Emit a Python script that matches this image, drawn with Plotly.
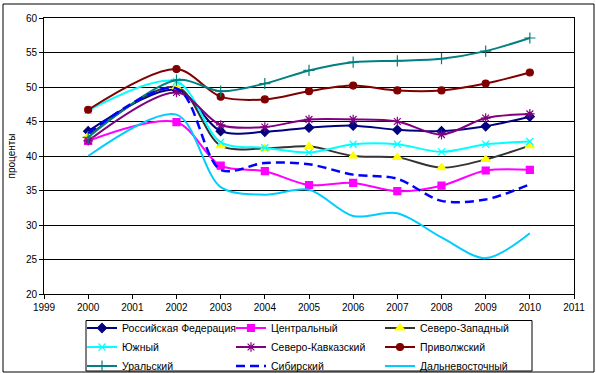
import plotly.graph_objects as go

years = [2000, 2002, 2003, 2004, 2005, 2006, 2007, 2008, 2009, 2010]

rf = [43.6, 49.6, 43.6, 43.5, 44.1, 44.4, 43.8, 43.6, 44.3, 45.7]
central = [42.2, 44.9, 38.6, 37.8, 35.8, 36.1, 34.9, 35.7, 37.9, 38.0]
nw = [42.9, 50.0, 41.5, 41.1, 41.4, 40.0, 39.8, 38.3, 39.5, 41.5]
south = [46.6, 50.8, 42.0, 41.2, 40.5, 41.7, 41.7, 40.6, 41.7, 42.1]
ncauc = [42.2, 49.2, 44.5, 44.2, 45.3, 45.3, 45.0, 43.1, 45.5, 46.1]
volga = [46.7, 52.6, 48.6, 48.2, 49.4, 50.2, 49.5, 49.5, 50.5, 52.1]
ural = [42.7, 51.0, 49.4, 50.5, 52.4, 53.6, 53.8, 54.1, 55.2, 57.1]
siber = [43.3, 49.8, 38.0, 39.0, 38.8, 37.3, 36.7, 33.5, 33.7, 35.9]
fareast = [40.0, 46.0, 35.5, 34.4, 35.1, 31.3, 31.7, 28.2, 25.2, 28.8]

x_ticks = list(range(1999, 2012))
y_ticks = list(range(20, 61, 5))

series = [
    ("Российская Федерация", rf, "#000080", "#000080", "diamond", 7, "solid"),
    ("Центральный", central, "#FF00FF", "#FF00FF", "square", 7, "solid"),
    ("Северо-Западный", nw, "#333333", "#FFFF00", "triangle-up", 8, "solid"),
    ("Южный", south, "#00FFFF", "#00FFFF", "x-thin-open", 7, "solid"),
    ("Северо-Кавказский", ncauc, "#800080", "#800080", "asterisk-open", 8, "solid"),
    ("Приволжский", volga, "#800000", "#800000", "circle", 7, "solid"),
    ("Уральский", ural, "#008080", "#008080", "cross-thin-open", 8, "solid"),
    ("Сибирский", siber, "#0000FF", "#0000FF", None, 0, "dash"),
    ("Дальневосточный", fareast, "#00CCFF", "#00CCFF", None, 0, "solid"),
]

fig = go.Figure()
for name, vals, lc, mc, sym, size, dash in series:
    if sym:
        fig.add_trace(go.Scatter(
            x=years, y=vals, name=name, mode="lines+markers",
            line=dict(color=lc, width=2, shape="spline", smoothing=0.9, dash=dash),
            marker=dict(symbol=sym, size=size, color=mc,
                        line=dict(color=mc, width=1.2)),
        ))
    else:
        fig.add_trace(go.Scatter(
            x=years, y=vals, name=name, mode="lines",
            line=dict(color=lc, width=2.5 if dash == "dash" else 2,
                      shape="spline", smoothing=0.9,
                      dash="9px,5px" if dash == "dash" else dash),
        ))

W, H = 596, 373
L, R, T, B = 44, 22, 18, 79
pw, ph = W - L - R, H - T - B

def px(xp):
    return (xp - L) / pw

def py(yp):
    return (H - B - yp) / ph

# outer chart frame
fig.add_shape(type="rect", xref="paper", yref="paper",
              x0=px(3), x1=px(594), y0=py(372), y1=py(4),
              line=dict(color="black", width=1), layer="below")
# legend frame
fig.add_shape(type="rect", xref="paper", yref="paper",
              x0=px(86), x1=px(532), y0=py(371), y1=py(320.5),
              line=dict(color="black", width=1), fillcolor="white", layer="above")

font = "Liberation Sans, Arial, sans-serif"
fig.update_layout(
    width=W, height=H,
    margin=dict(l=L, r=R, t=T, b=B, autoexpand=False),
    paper_bgcolor="white", plot_bgcolor="white",
    font=dict(family=font, size=10, color="black"),
    xaxis=dict(range=[1999, 2011], tickvals=x_ticks, ticktext=[str(v) for v in x_ticks],
               showgrid=False, zeroline=False, showline=True, linecolor="black",
               linewidth=1, mirror=True, ticks="outside", ticklen=4,
               tickcolor="black", tickfont=dict(size=10), automargin=False),
    yaxis=dict(range=[20, 60], tickvals=y_ticks, ticktext=[str(v) for v in y_ticks],
               showgrid=True, gridcolor="black", gridwidth=1, zeroline=False,
               showline=True, linecolor="black", linewidth=1, mirror=True,
               ticks="outside", ticklen=4, tickcolor="black",
               tickfont=dict(size=10), automargin=False,
               title=dict(text="проценты", font=dict(size=10), standoff=8)),
    legend=dict(orientation="h", x=px(82), xanchor="left", y=py(313.5), yanchor="top",
                borderwidth=0, bgcolor="rgba(0,0,0,0)",
                entrywidth=104, entrywidthmode="pixels",
                font=dict(size=10.5), traceorder="normal",
                itemwidth=30),
    showlegend=True,
)

fig.write_html(
    "out.html",
    config={"displayModeBar": False},
    post_script="document.body.style.margin='0';document.body.style.overflow='hidden';",
)
